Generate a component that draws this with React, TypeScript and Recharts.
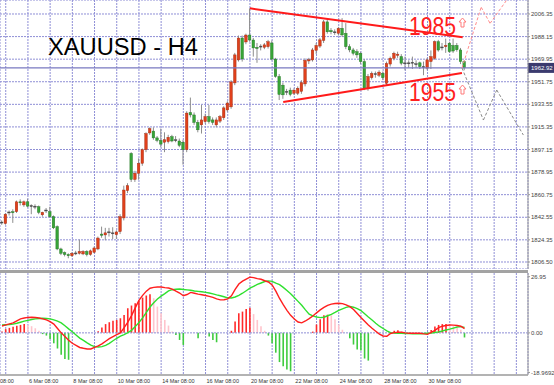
import React from "react";
import {
  ComposedChart,
  Bar,
  Line,
  XAxis,
  YAxis,
  CartesianGrid,
  ReferenceLine,
  Cell,
} from "recharts";

// H4 candles, 3 Mar 04:00 -> 31 Mar
const opens = [
  1838.5, 1837.5, 1846.5, 1847, 1847, 1855, 1852.5, 1855, 1852, 1851.5,
  1851, 1844.5, 1848, 1847, 1843, 1835, 1817, 1814, 1812.5, 1811.5,
  1813.5, 1813.5, 1813, 1815, 1812.5, 1814.3, 1817, 1829, 1828.3, 1830.8,
  1829.5, 1828.5, 1831, 1842, 1864, 1894, 1873, 1878, 1886, 1897,
  1910.5, 1912, 1906.5, 1904.5, 1903, 1903.5, 1907.5, 1905, 1904, 1903,
  1897, 1927, 1925, 1919, 1917, 1919.6, 1923.7, 1921, 1917, 1920,
  1922.7, 1929, 1931.5, 1950.8, 1969.3, 1987, 1983.8, 1989.4, 1985.4, 1979.5,
  1980, 1979.5, 1980, 1983, 1970, 1956, 1949, 1944, 1945, 1942.5,
  1942.5, 1944, 1950, 1968.5, 1969.3, 1977, 1980.5, 1985, 2000, 1993,
  1992, 1990.8, 1994.8, 1990.8, 1980, 1977.4, 1976, 1974.7, 1968, 1946.5,
  1955, 1958, 1957, 1958.5, 1950.5, 1966, 1970.7, 1973, 1972, 1967,
  1966.5, 1967, 1966, 1967, 1963.5, 1962.7, 1968, 1970.7, 1984, 1979.5,
  1980, 1982.8, 1981, 1981, 1977.4, 1968,
];
const highs = [
  1840, 1846, 1848, 1849, 1856, 1857, 1856, 1857.5, 1853, 1853,
  1852, 1847, 1850, 1851, 1844, 1836, 1818, 1815, 1813.5, 1814.5,
  1815.5, 1824.5, 1816, 1816, 1816.5, 1819, 1827, 1835, 1834, 1834,
  1834.5, 1832, 1845, 1868, 1870, 1895, 1880, 1890, 1898, 1911,
  1915, 1915, 1908, 1914, 1911, 1909, 1909, 1908, 1906, 1905,
  1928, 1939, 1927, 1921, 1933, 1926, 1933, 1923, 1923, 1925,
  1932, 1936, 1953, 1975, 1989, 1989, 1990.5, 2010.9, 1987, 1983,
  1982, 1983, 1985.5, 1985, 1971, 1958, 1951, 1946, 1947, 1946.5,
  1948, 1953, 1970.5, 1971, 1979, 1983, 1987, 2001.5, 2003, 1995,
  1994, 1996, 2003, 1999, 1982, 1979, 1978, 1976, 1970, 1958,
  1960, 1960, 1961, 1960, 1968, 1972, 1976, 1976, 1974, 1972,
  1969, 1972, 1969, 1968, 1968, 1971, 1977, 1985, 1985.5, 1983,
  1986.5, 1984, 1986.5, 1983, 1979, 1969,
];
const lows = [
  1836.5, 1836.5, 1844, 1838, 1846, 1852, 1851, 1850.5, 1845, 1849,
  1845, 1843, 1846, 1842, 1833, 1816, 1812, 1811, 1809.5, 1810.5,
  1812, 1812.5, 1812, 1811, 1811.5, 1813.5, 1816, 1826, 1824, 1827,
  1825, 1825, 1829, 1840, 1862, 1871, 1871, 1872.8, 1884, 1895,
  1909, 1905, 1903, 1899, 1895, 1902, 1903, 1903, 1899, 1885,
  1895, 1923, 1917, 1911, 1910, 1918, 1918, 1917, 1915, 1918.5,
  1921, 1927.5, 1930, 1949, 1968, 1968, 1982, 1984, 1972, 1967,
  1977, 1978, 1978.5, 1969, 1955, 1937, 1938, 1941, 1940, 1941,
  1941, 1942, 1948, 1966, 1968, 1974, 1979, 1983, 1990.5, 1990,
  1989.5, 1989, 1988, 1978, 1975.5, 1973, 1971, 1966, 1945, 1944.5,
  1953.5, 1955, 1955.5, 1953, 1949, 1964, 1969, 1971, 1965, 1961,
  1963, 1962, 1963, 1962, 1957, 1961, 1962, 1969.5, 1976, 1977,
  1975, 1975, 1975, 1976, 1966, 1961,
];
const closes = [
  1838.7, 1845, 1846.8, 1846.2, 1855, 1854.2, 1855, 1851.5, 1851.5, 1851.2,
  1846.5, 1846.5, 1848.4, 1843, 1834, 1817, 1813.5, 1812.5, 1811.5, 1813.5,
  1813.8, 1815, 1815, 1812.5, 1815.5, 1817.8, 1825.8, 1828, 1830, 1830.4,
  1830, 1830.7, 1843, 1864.5, 1868, 1873, 1878, 1886, 1897, 1910,
  1914, 1906.5, 1904.5, 1901.5, 1905, 1907, 1904, 1904.6, 1900.5, 1897,
  1926.5, 1925, 1919, 1913, 1921, 1923.7, 1919.7, 1919, 1921, 1923.7,
  1930.7, 1934.6, 1951.6, 1973.4, 1987, 1970.1, 1989.4, 1985.4, 1979, 1978.5,
  1980.5, 1981.5, 1984, 1970, 1956, 1941.5, 1941.2, 1943.5, 1941.5, 1945,
  1946.5, 1951, 1969, 1969.5, 1977.4, 1981, 1985.5, 2000, 1992, 1992,
  1991.5, 1994.8, 1989.5, 1980, 1977.4, 1974.7, 1973.4, 1968, 1946.5, 1956,
  1958.5, 1958.3, 1959.5, 1955, 1966.5, 1970.7, 1974.7, 1974, 1966.7, 1966.5,
  1967, 1967.5, 1966.3, 1964, 1964, 1969.4, 1972, 1984, 1977.3, 1979.8,
  1981, 1976, 1976.5, 1977.5, 1968, 1962.92,
];

// MACD(12,26,9) sub window
const macdLine = [
  3.3, 3.8, 4.3, 4.8, 5.8, 6.7, 7.1, 7.4, 7.5, 7.4,
  7.1, 6.7, 6.2, 5.4, 4.2, 2.1, 0.0, -1.8, -3.5, -5.0,
  -6.0, -7.0, -7.4, -7.7, -7.7, -7.0, -6.2, -5.3, -4.0, -2.8,
  -1.8, -0.9, 0.0, 2.5, 5.2, 8.3, 12.0, 15.6, 18.0, 20.0,
  21.4, 21.8, 22.0, 22.0, 21.7, 21.5, 21.0, 20.0, 19.1, 17.8,
  18.4, 19.4, 19.0, 18.6, 18.3, 17.9, 17.5, 17.0, 16.3, 15.8,
  15.9, 16.3, 17.8, 20.8, 23.4, 24.8, 25.8, 26.7, 26.5, 26.0,
  25.7, 25.0, 24.4, 23.0, 20.0, 16.5, 13.5, 10.8, 8.4, 6.6,
  5.2, 4.8, 5.7, 6.8, 8.1, 9.6, 11.0, 12.2, 13.2, 13.8,
  14.1, 14.2, 14.0, 13.4, 12.6, 11.2, 9.3, 7.4, 5.6, 3.8,
  2.2, 0.8, -0.6, -1.5, -1.6, -0.3, 0.1, 0.3, 0.3, 0.0,
  -0.2, -0.2, -0.2, -0.2, -0.5, -0.7, 0.2, 1.2, 2.5, 3.2,
  3.5, 3.8, 3.7, 3.5, 3.2, 2.0,
];
const signalLine = [
  3.8, 3.9, 4.0, 4.2, 4.6, 5.1, 5.6, 6.0, 6.4, 6.7,
  6.9, 7.0, 6.9, 6.7, 6.2, 5.6, 4.8, 3.4, 1.9, 0.5,
  -1.0, -2.5, -3.6, -4.8, -5.9, -6.6, -6.8, -6.6, -6.0, -5.0,
  -3.8, -2.6, -1.6, -0.8, 0.1, 1.2, 3.0, 5.0, 7.2, 9.8,
  12.4, 14.4, 16.2, 17.6, 18.8, 20.1, 20.7, 20.9, 21.0, 20.8,
  20.6, 20.4, 20.1, 19.9, 19.7, 19.4, 19.1, 18.7, 18.2, 17.8,
  17.3, 16.8, 16.7, 17.2, 18.0, 19.0, 20.2, 21.4, 22.3, 23.2,
  23.9, 24.6, 24.9, 24.7, 23.8, 23.1, 21.8, 20.3, 18.8, 17.0,
  15.1, 13.2, 11.0, 9.0, 8.1, 7.6, 7.3, 7.5, 8.2, 8.9,
  9.8, 10.8, 11.5, 12.2, 12.6, 12.3, 11.6, 10.7, 9.2, 7.6,
  6.2, 4.6, 3.2, 2.1, 1.0, 0.1, -0.1, -0.2, -0.2, -0.3,
  -0.3, -0.4, -0.4, -0.4, -0.3, -0.2, -0.1, 0.2, 0.5, 0.9,
  1.4, 1.8, 2.3, 2.8, 3.0, 2.6,
];
// histogram, null where the bar is not drawn
const osma = [
  0.6, 1.8, 2.4, 2.9, 3.4, 3.8, 4.3, 3.8, 3.2, 2.2,
  1.0, -0.6, -1.3, -2.9, -5.0, -7.5, -10.5, -12.5, -12.9, null,
  null, null, null, null, null, null, 0.8, 2.6, 4.2, 5.1,
  5.8, 6.2, 7.0, 8.6, 11.8, 13.1, 14.2, 15.3, 16.9, 17.9,
  18.5, 16.6, 12.6, 9.4, 6.2, 3.5, 0.6, -1.0, -3.4, -5.8,
  null, null, null, -2.6, null, null, -1.8, -3.4, -4.5, null,
  null, null, 1.0, 5.4, 9.4, 10.2, 11.5, 12.1, 9.0, 6.2,
  3.2, 1.0, -1.3, -5.0, -9.5, -14.0, -16.0, -17.6, -18.4, null,
  null, null, null, null, 0.6, 4.0, 6.5, 8.4, 8.7, 8.4,
  6.5, 4.0, 1.5, null, -2.6, -5.6, -8.0, -8.5, -12.3, -13.3,
  null, null, null, null, null, null, 1.0, 1.3, 0.7, null,
  null, null, null, null, null, null, 1.4, 3.0, 3.8, 4.2,
  4.3, 3.8, 3.2, 2.4, 1.5, -2.2,
];

const priceTicks = [
  2006.35, 1988.15, 1969.95, 1951.75, 1933.55, 1915.35, 1897.15, 1878.95,
  1860.75, 1842.55, 1824.35, 1806.5,
];
const macdTicks = [26.95, 0, -18.9692];
const dayTicks = [
  1, 7, 13, 19, 25, 31, 37, 43, 49, 55, 61, 67, 73, 79, 85, 91, 97, 103, 109,
  115, 121, 127, 133, 139,
];
const dayLabels: Record<number, string> = {
  7: "6 Mar 08:00",
  19: "8 Mar 08:00",
  31: "10 Mar 08:00",
  43: "14 Mar 08:00",
  55: "16 Mar 08:00",
  67: "20 Mar 08:00",
  79: "22 Mar 08:00",
  91: "24 Mar 08:00",
  103: "28 Mar 08:00",
  115: "30 Mar 08:00",
};
const lastPrice = 1962.92;

// drawn objects, in bar index / price
const upperTrend = [{ x: 67, y: 2010.9 }, { x: 124.5, y: 1987.6 }];
const lowerTrend = [{ x: 76, y: 1935.5 }, { x: 124.3, y: 1958.8 }];
const bullPath = [
  { x: 124.3, y: 1962.9 },
  { x: 129.5, y: 2011.8 },
  { x: 131.9, y: 1998.8 },
  { x: 136.4, y: 2017.6 },
];
const bearPath = [
  { x: 124.3, y: 1962.9 },
  { x: 130.1, y: 1920.9 },
  { x: 133.7, y: 1945.1 },
  { x: 140.9, y: 1908.8 },
];

const X_DOMAIN: [number, number] = [-0.55, 142.15];
const GRID = "#8f8fd6";
const FONT = "'Liberation Sans', Arial, sans-serif";

const candles = opens.map((o, i) => ({
  i,
  open: o,
  high: highs[i],
  low: lows[i],
  close: closes[i],
  range: [lows[i], highs[i]],
}));

const macdData = macdLine.map((m, i) => ({
  i,
  macd: m,
  signal: signalLine[i],
  osma: osma[i],
}));

function histColor(i: number) {
  const v = osma[i] as number;
  if (v < 0) return "#3fcc3f";
  const prev = (osma[i - 1] as number) ?? 0;
  return v >= (prev > 0 ? prev : 0) ? "#ff2a2a" : "#ffc4cc";
}

const Candle = (props: any) => {
  const { x, y, width, height, payload } = props;
  if (x == null || payload == null) return null;
  const top = Math.min(y, y + height);
  const h = Math.abs(height);
  const { open, close, high, low } = payload;
  const k = high - low > 0 ? h / (high - low) : 0;
  const yO = top + (high - open) * k;
  const yC = top + (high - close) * k;
  const cx = x + width / 2;
  const flat = Math.abs(close - open) < 0.6;
  const fill = flat ? "#4a4a4a" : close > open ? "#e0401b" : "#38a538";
  const edge = flat ? "#4a4a4a" : close > open ? "#9c2a10" : "#1f6f1f";
  const bTop = Math.min(yO, yC);
  const bH = Math.max(1, Math.abs(yC - yO));
  return (
    <g>
      <line x1={cx} x2={cx} y1={top} y2={top + h} stroke="#8d8d8d" strokeWidth={1} />
      <rect
        x={cx - 1.3}
        y={bTop}
        width={2.6}
        height={bH}
        fill={fill}
        stroke={edge}
        strokeWidth={0.4}
      />
    </g>
  );
};

const PriceTag = (props: any) => {
  const vb = props.viewBox;
  if (!vb) return null;
  const x = vb.x + vb.width;
  return (
    <g>
      <rect x={x} y={vb.y - 5} width={26} height={10} fill="#3a3a6e" />
      <text
        x={x + 3}
        y={vb.y + 2.2}
        fontSize={6}
        fill="#ffffff"
        fontFamily={FONT}
      >
        {lastPrice.toFixed(2)}
      </text>
    </g>
  );
};

const DateTick = (props: any) => {
  const { x, y, payload } = props;
  const label = dayLabels[payload.value];
  if (!label) return null;
  return (
    <text x={x + 1} y={y + 8} fontSize={5.5} fill="#333" fontFamily={FONT}>
      {label}
    </text>
  );
};

// small outlined up-arrow icon next to the level numbers
const UpIcon = ({ x, y }: { x: number; y: number }) => (
  <path
    d={`M${x + 3.5} ${y} L${x + 7} ${y + 4} L${x + 5} ${y + 4} L${x + 5} ${y + 9} L${x + 2} ${y + 9} L${x + 2} ${y + 4} L${x} ${y + 4} Z`}
    fill="none"
    stroke="#ff7a7a"
    strokeWidth={1}
  />
);

const segs = (pts: { x: number; y: number }[]) =>
  pts.slice(1).map((p, k) => [pts[k], p]);

export default function App() {
  return (
    <div
      style={{
        position: "absolute",
        left: 0,
        top: 0,
        width: 554,
        height: 385,
        background: "#fff",
        overflow: "hidden",
      }}
    >
      <div style={{ position: "absolute", left: 0, top: 0 }}>
        <ComposedChart
          width={554}
          height={269}
          data={candles}
          margin={{ top: 0, right: 0, bottom: 0, left: 0 }}
        >
          <CartesianGrid stroke={GRID} strokeDasharray="2 1" />
          <XAxis
            dataKey="i"
            type="number"
            domain={X_DOMAIN}
            allowDataOverflow
            ticks={dayTicks}
            interval={0}
            hide
          />
          <YAxis
            orientation="right"
            width={26}
            domain={[1800.85, 2017.63]}
            allowDataOverflow
            ticks={priceTicks}
            interval={0}
            tickFormatter={(v: number) => v.toFixed(2)}
            tick={{ fontSize: 6, fill: "#444", fontFamily: FONT }}
            tickSize={2}
            tickMargin={1}
            axisLine={{ stroke: "#9a9a9a" }}
            tickLine={{ stroke: "#9a9a9a" }}
          />
          <ReferenceLine
            y={lastPrice}
            stroke="#7878c0"
            strokeWidth={1.2}
            label={<PriceTag />}
          />
          <Bar
            dataKey="range"
            barSize={3}
            shape={<Candle />}
            isAnimationActive={false}
          />
          <ReferenceLine segment={upperTrend} stroke="#ff1a1a" strokeWidth={2} ifOverflow="visible" />
          <ReferenceLine segment={lowerTrend} stroke="#ff1a1a" strokeWidth={2} ifOverflow="visible" />
          {segs(bullPath).map((s, k) => (
            <ReferenceLine
              key={"b" + k}
              segment={s}
              stroke="#ff8c8c"
              strokeDasharray="3 2"
              ifOverflow="visible"
            />
          ))}
          {segs(bearPath).map((s, k) => (
            <ReferenceLine
              key={"s" + k}
              segment={s}
              stroke="#8a8a8a"
              strokeDasharray="3 2"
              ifOverflow="visible"
            />
          ))}
        </ComposedChart>
      </div>

      <div style={{ position: "absolute", left: 0, top: 271 }}>
        <ComposedChart
          width={554}
          height={114}
          data={macdData}
          margin={{ top: 2, right: 0, bottom: 0, left: 0 }}
        >
          <CartesianGrid stroke={GRID} strokeDasharray="2 1" horizontal={false} />
          <XAxis
            dataKey="i"
            type="number"
            domain={X_DOMAIN}
            allowDataOverflow
            ticks={dayTicks}
            interval={0}
            height={10}
            tickSize={0}
            tickMargin={0}
            tickLine={false}
            axisLine={{ stroke: "#9a9a9a", strokeWidth: 1.5 }}
            tick={<DateTick />}
          />
          <YAxis
            orientation="right"
            width={26}
            domain={[-20.2, 28.7]}
            allowDataOverflow
            ticks={macdTicks}
            interval={0}
            tickFormatter={(v: number) =>
              v === 0 ? "0.00" : v < -18 ? "-18.9692" : v.toFixed(2)
            }
            tick={{ fontSize: 6, fill: "#444", fontFamily: FONT }}
            tickSize={2}
            tickMargin={1}
            axisLine={{ stroke: "#9a9a9a" }}
            tickLine={{ stroke: "#9a9a9a" }}
          />
          <ReferenceLine y={0} stroke={GRID} strokeDasharray="2 1" />
          <Bar dataKey="osma" barSize={1.6} isAnimationActive={false}>
            {macdData.map((d) => (
              <Cell key={d.i} fill={histColor(d.i)} />
            ))}
          </Bar>
          <Line
            dataKey="signal"
            type="linear"
            stroke="#2fe02f"
            strokeWidth={1.4}
            dot={false}
            isAnimationActive={false}
          />
          <Line
            dataKey="macd"
            type="linear"
            stroke="#ff1e1e"
            strokeWidth={1.4}
            dot={false}
            isAnimationActive={false}
          />
        </ComposedChart>
      </div>

      <div
        style={{
          position: "absolute",
          left: 0,
          top: 270,
          width: 528,
          height: 3,
          background: "#a3a3a3",
        }}
      />

      <svg
        width={554}
        height={385}
        style={{ position: "absolute", left: 0, top: 0, pointerEvents: "none" }}
      >
        <text x={48} y={55} fontSize={23.7} fill="#000" fontFamily={FONT}>
          XAUUSD - H4
        </text>
        <text
          x={409}
          y={35}
          fontSize={26}
          fill="#ff2020"
          fontFamily={FONT}
          textLength={47}
          lengthAdjust="spacingAndGlyphs"
        >
          1985
        </text>
        <text
          x={409}
          y={100.5}
          fontSize={26}
          fill="#ff2020"
          fontFamily={FONT}
          textLength={47}
          lengthAdjust="spacingAndGlyphs"
        >
          1955
        </text>
        <UpIcon x={459} y={18} />
        <UpIcon x={459} y={85} />
        <text x={0} y={383} fontSize={5.5} fill="#333" fontFamily={FONT}>
          08:00
        </text>
      </svg>
    </div>
  );
}
